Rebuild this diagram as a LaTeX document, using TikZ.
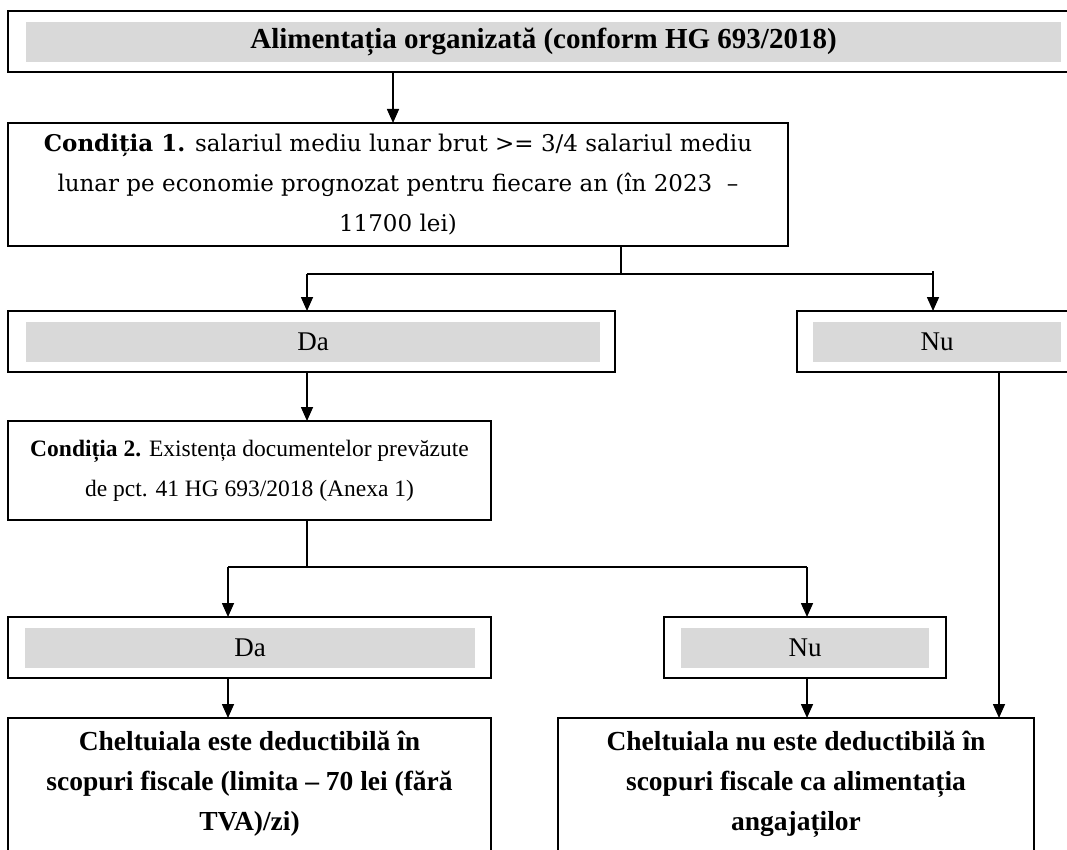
\documentclass[tikz,border=0pt]{standalone}
\usepackage{fontspec}
\setmainfont{Liberation Serif}
\newfontfamily\condfont{DejaVu Serif}
\usetikzlibrary{arrows.meta}
\definecolor{bargray}{RGB}{217,217,217}
\tikzset{
  box/.style={draw=black, line width=1.8pt, inner sep=0pt, outer sep=0pt},
  bar/.style={fill=bargray, inner sep=0pt, outer sep=0pt, minimum height=40pt},
  wire/.style={line width=1.6pt},
  link/.style={wire, -{Triangle[length=14pt,width=12pt]}},
}
\begin{document}
\begin{tikzpicture}[x=1pt, y=-1pt]
\useasboundingbox (0,0) rectangle (1067,850);
\clip (0,0) rectangle (1067,850);
\node[box, minimum width=1070pt, minimum height=61pt] (title) at (543,41.5) {};
\node[bar, minimum width=1035pt, font=\fontsize{29}{33}\selectfont\bfseries] (titlebar) at (543.5,42) {Alimentația organizată (conform HG 693/2018)};
\node[box, minimum width=780pt, minimum height=123pt, align=center, font=\fontsize{23}{40}\condfont] (cond1) at (398,184.5) {\textbf{Condiția 1.} salariul mediu lunar brut >= 3/4 salariul mediu\\ lunar pe economie prognozat pentru fiecare an (în 2023~ –\\ 11700 lei)};
\node[box, minimum width=607pt, minimum height=61pt] (da1) at (311.5,341.5) {};
\node[bar, minimum width=574pt, font=\fontsize{27}{31}\selectfont] (da1bar) at (313,342) {Da};
\node[box, minimum width=280pt, minimum height=61pt] (nu1) at (937,341.5) {};
\node[bar, minimum width=248pt, font=\fontsize{27}{31}\selectfont] (nu1bar) at (937,342) {Nu};
\node[box, minimum width=483pt, minimum height=99pt, align=center, font=\fontsize{23.5}{40}\selectfont] (cond2) at (249.5,470.5) {\textbf{Condiția 2.} Existența documentelor prevăzute\\ de pct. 41 HG 693/2018 (Anexa 1)};
\node[box, minimum width=483pt, minimum height=61pt] (da2) at (249.5,647.5) {};
\node[bar, minimum width=450pt, font=\fontsize{27}{31}\selectfont] (da2bar) at (250,647.5) {Da};
\node[box, minimum width=282pt, minimum height=61pt] (nu2) at (805,647.5) {};
\node[bar, minimum width=248pt, font=\fontsize{27}{31}\selectfont] (nu2bar) at (805,647.5) {Nu};
\node[box, minimum width=483pt, minimum height=182pt] (res1) at (249.5,809) {};
\node[anchor=north, inner sep=0pt, align=center, font=\fontsize{27.5}{40}\selectfont\bfseries] (res1text) at (249.5,731) {Cheltuiala este deductibilă în\\ scopuri fiscale (limita – 70 lei (fără\\ TVA)/zi)};
\node[box, minimum width=476pt, minimum height=182pt] (res2) at (796,809) {};
\node[anchor=north, inner sep=0pt, align=center, font=\fontsize{27.5}{40}\selectfont\bfseries] (res2text) at (796,731) {Cheltuiala nu este deductibilă în\\ scopuri fiscale ca alimentația\\ angajaților};
\coordinate (c1) at (393,0);
\coordinate (fork1) at (621,274);
\coordinate (d1) at (307,274);
\coordinate (n1) at (933,271);
\coordinate (fork2) at (307,567);
\coordinate (d2) at (228,567);
\coordinate (n2) at (807,567);
\coordinate (n3) at (999,0);
\draw[link] (title.south -| c1) -- (cond1.north -| c1);
\draw[wire] (cond1.south -| fork1) -- (fork1);
\draw[wire] (d1) -- (d1 -| n1);
\draw[link] (d1) -- (da1.north -| d1);
\draw[link] (n1) -- (nu1.north -| n1);
\draw[link] (da1.south -| d1) -- (cond2.north -| d1);
\draw[wire] (cond2.south -| fork2) -- (fork2);
\draw[wire] (d2) -- (n2);
\draw[link] (d2) -- (da2.north -| d2);
\draw[link] (n2) -- (nu2.north -| n2);
\draw[link] (da2.south -| d2) -- (res1.north -| d2);
\draw[link] (nu2.south -| n2) -- (res2.north -| n2);
\draw[link] (nu1.south -| n3) -- (res2.north -| n3);
\end{tikzpicture}
\end{document}
